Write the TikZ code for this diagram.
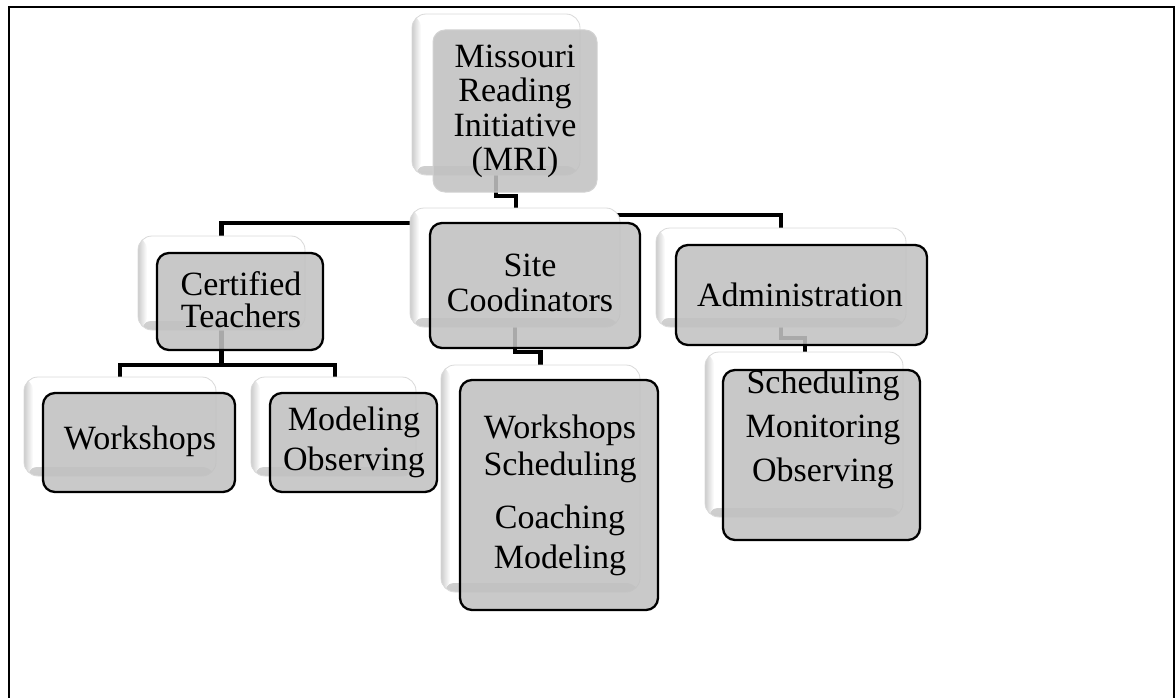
\documentclass[tikz,border=0pt]{standalone}
\usepackage{fontspec}
\setmainfont{Liberation Serif}
\definecolor{boxgray}{RGB}{193,193,193}
\tikzset{
  conn/.style={line width=4.5pt, draw=black, line join=miter},
  backbox/.style={rounded corners=14pt, inner sep=0pt, outer sep=0pt, fill=white,
    draw=gray!30, line width=0.8pt,
    path picture={
      \fill[top color=white, bottom color=gray!40] ([yshift=9pt]path picture bounding box.south west) rectangle (path picture bounding box.south east);
      \fill[left color=gray!40, right color=white] (path picture bounding box.south west) rectangle ([xshift=9pt]path picture bounding box.north west);
    }},
  frontbox/.style={rounded corners=12pt, inner sep=0pt, outer sep=0pt, fill=boxgray,
    fill opacity=0.88, draw=black, draw opacity=1, line width=2.3pt},
  txt/.style={align=center, inner sep=0pt, text=black, font=\fontsize{34}{34}\selectfont},
}
\begin{document}
\begin{tikzpicture}[x=1pt, y=-1pt]
\useasboundingbox (0,0) rectangle (1175,698);
% outer frame
\draw[line width=2pt] (9,698) -- (9,7) -- (1174,7) -- (1174,698);

% named coordinates for connector elbows
\coordinate (j1) at (497,196);
\coordinate (j2) at (516,196);
\coordinate (jL) at (516,223);
\coordinate (jR) at (516,215);
\coordinate (jC) at (221.5,365);
\coordinate (jS) at (515,352);
\coordinate (jA) at (805,338);

% back box anchor points (used by the connectors)
\path
  (496,94.5) coordinate (pmriB)
  (221.5,283) coordinate (pcertB)
  (515,267.5) coordinate (psiteB)
  (781,277.5) coordinate (padmB)
  (120,426.5) coordinate (pwsB)
  (335,426.5) coordinate (pmoB)
  (540.5,478.5) coordinate (pscB)
  (805,434.5) coordinate (pacB);

% connectors (drawn first, partly hidden by boxes)
\draw[conn] (pmriB) -- (pmriB |- j1) -- (j2) -- (jL) -| (pcertB);
\draw[conn] (j2) -- (jR) -| (padmB);
\draw[conn] (pcertB) -- (jC) -| (pwsB);
\draw[conn] (jC) -| (pmoB);
\draw[conn] (psiteB) |- (jS) -| (pscB);
\draw[conn] (padmB) |- (jA) -- (pacB -| jA);

% back boxes
\node[backbox, minimum width=168pt, minimum height=161pt] (mriB) at (pmriB) {};
\node[backbox, minimum width=167pt, minimum height=94pt] (certB) at (pcertB) {};
\node[backbox, minimum width=210pt, minimum height=119pt] (siteB) at (psiteB) {};
\node[backbox, minimum width=250pt, minimum height=99pt] (admB) at (padmB) {};
\node[backbox, minimum width=192pt, minimum height=99pt] (wsB) at (pwsB) {};
\node[backbox, minimum width=165pt, minimum height=99pt] (moB) at (333.5,426.5) {};
\node[backbox, minimum width=199pt, minimum height=227pt] (scB) at (pscB) {};
\node[backbox, minimum width=198pt, minimum height=165pt] (acB) at (804,434.5) {};

% front boxes
\node[frontbox, draw=gray!35, line width=1pt, minimum width=164pt, minimum height=162pt] (mriF) at (515,111) {};
\node[frontbox, minimum width=166pt, minimum height=97pt] (certF) at (240,301.5) {};
\node[frontbox, minimum width=210pt, minimum height=125pt] (siteF) at (535,285.5) {};
\node[frontbox, minimum width=251pt, minimum height=100pt] (admF) at (801.5,295) {};
\node[frontbox, minimum width=192pt, minimum height=99pt] (wsF) at (139,442.5) {};
\node[frontbox, minimum width=167pt, minimum height=99pt] (moF) at (353.5,442.5) {};
\node[frontbox, minimum width=198pt, minimum height=230pt] (scF) at (559,495) {};
\node[frontbox, minimum width=197pt, minimum height=170pt] (acF) at (821.5,455) {};

% texts
\node[txt, font=\fontsize{34}{34.3}\selectfont] (mriT) at (515,111.5) {Missouri\\Reading\\Initiative\\(MRI)};
\node[txt, font=\fontsize{34}{32}\selectfont] (certT) at (241,300) {Certified\\Teachers};
\node[txt, font=\fontsize{34}{35}\selectfont] (siteT) at (530,282.5) {Site\\Coodinators};
\node[txt] (admT) at (800,295) {Administration};
\node[txt] (wsT) at (140,441) {Workshops};
\node[txt, font=\fontsize{34}{40}\selectfont] (moT) at (354,442) {Modeling\\Observing};
\node[txt, font=\fontsize{34}{37}\selectfont] (scT) at (560,495) {Workshops\\Scheduling\\[16pt]Coaching\\[3pt]Modeling};
\node[txt, font=\fontsize{34}{44}\selectfont] (acT) at (823,429) {Scheduling\\Monitoring\\Observing};
\end{tikzpicture}
\end{document}
